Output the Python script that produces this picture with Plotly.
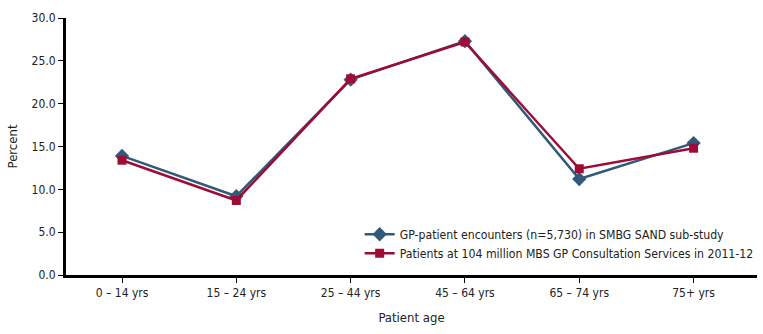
import plotly.graph_objects as go

categories = ["0 – 14 yrs", "15 – 24 yrs", "25 – 44 yrs", "45 – 64 yrs", "65 – 74 yrs", "75+ yrs"]
sand_values = [13.9, 9.2, 22.8, 27.3, 11.2, 15.4]
mbs_values = [13.4, 8.7, 22.9, 27.2, 12.4, 14.8]
y_ticks = [0, 5, 10, 15, 20, 25, 30]

FONT = "DejaVu Sans Condensed, Liberation Sans Narrow, Arial Narrow, sans-serif"
BLUE = "#33597A"
RED = "#9E0B34"

fig = go.Figure()
fig.add_trace(go.Scatter(
    x=categories, y=sand_values, mode="lines+markers",
    name="GP-patient encounters (n=5,730) in SMBG SAND sub-study",
    line=dict(color=BLUE, width=2.5),
    marker=dict(symbol="diamond", size=11, color=BLUE),
))
fig.add_trace(go.Scatter(
    x=categories, y=mbs_values, mode="lines+markers",
    name="Patients at 104 million MBS GP Consultation Services in 2011-12",
    line=dict(color=RED, width=2.5),
    marker=dict(symbol="square", size=9, color=RED),
))

fig.update_layout(
    width=763, height=334,
    margin=dict(l=66, r=6, t=18, b=59, autoexpand=False),
    paper_bgcolor="white", plot_bgcolor="white",
    font=dict(family=FONT, size=12, color="#222222"),
    showlegend=True,
    legend=dict(x=0.425, y=0.215, xanchor="left", yanchor="top",
                bgcolor="rgba(0,0,0,0)", font=dict(size=12.2, color="#222222"),
                tracegroupgap=0, itemwidth=30),
    xaxis=dict(
        type="category", range=[-0.49, 5.555],
        showline=True, linecolor="black", linewidth=3,
        ticks="outside", ticklen=5, tickwidth=1, tickcolor="black",
        showgrid=False, zeroline=False,
        tickfont=dict(size=12),
        title=dict(text="Patient age", font=dict(size=13), standoff=14),
    ),
    yaxis=dict(
        range=[0, 30], tickvals=y_ticks, tickformat=".1f",
        showline=True, linecolor="black", linewidth=3,
        ticks="outside", ticklen=5, tickwidth=1, tickcolor="black",
        showgrid=False, zeroline=False,
        tickfont=dict(size=12),
        title=dict(text="Percent", font=dict(size=13), standoff=12),
    ),
)

fig.write_html("out.html")
